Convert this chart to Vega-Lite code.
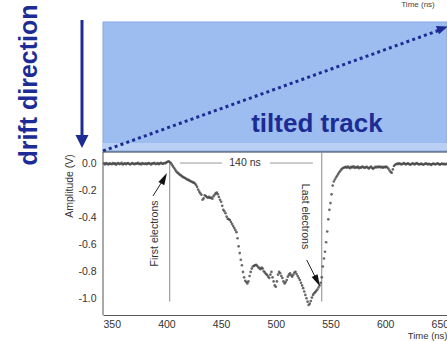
{
  "$schema": "https://vega.github.io/schema/vega-lite/v6.json",
  "width": 344,
  "height": 315,
  "autosize": {"type": "none"},
  "padding": {"left": 103, "top": 0, "right": 0, "bottom": 26},
  "background": "white",
  "config": {"view": {"stroke": null}, "font": "Liberation Sans"},
  "encoding": {
    "x": {"field": "t", "type": "quantitative",
      "scale": {"domain": [342, 656.5], "nice": false, "zero": false},
      "axis": {"values": [350, 400, 450, 500, 550, 600, 650], "title": "Time (ns)", "titleAnchor": "end", "titleFontSize": 9.5, "titleFontWeight": "normal", "titleColor": "#333", "titlePadding": 1, "ticks": false, "domain": true, "domainColor": "#555", "grid": false, "labelPadding": 4, "labelFontSize": 10.5, "labelColor": "#333", "labelFlush": false}},
    "y": {"field": "amp", "type": "quantitative",
      "scale": {"domain": [-1.119, 1.215], "nice": false, "zero": false},
      "axis": {"values": [0, -0.2, -0.4, -0.6, -0.8, -1], "title": null, "domain": false, "ticks": false, "grid": false, "labelPadding": 7, "labelFontSize": 10.5, "labelColor": "#333", "labelExpr": "replace(format(datum.value, '.1f'), '\u2212', '-')"}}
  },
  "layer": [
    {"data": {"values": [{"t": 342, "t2": 656.5, "amp": 0.089, "amp2": 1.052}]},
     "mark": {"type": "rect", "fill": "#9dbdf0", "stroke": "#86a6e6", "strokeWidth": 1},
     "encoding": {"x2": {"field": "t2"}, "y2": {"field": "amp2"}}},
    {"data": {"values": [{"t": 342, "t2": 656.5, "amp": 0.104, "amp2": 0.156}]},
     "mark": {"type": "rect", "fill": "#b9cff3"},
     "encoding": {"x2": {"field": "t2"}, "y2": {"field": "amp2"}}},
    {"data": {"values": [{"t": 342, "amp": 0.096}, {"t": 650, "amp": 0.993}]},
     "mark": {"type": "line", "stroke": "#1c2c94", "strokeWidth": 3, "strokeDash": [3, 3.2]},
     "encoding": {}},
    {"data": {"values": [{"t": 652.5, "amp": 1.005}]},
     "mark": {"type": "point", "shape": "M0,-1L-0.8,1L0.8,1Z", "size": 121, "filled": true, "color": "#1c2c94", "opacity": 1, "angle": 70},
     "encoding": {}},
    {"data": {"values": [{"t": 322.8, "amp": 1.067, "amp2": 0.2}]},
     "mark": {"type": "rule", "stroke": "#1c2c94", "strokeWidth": 3},
     "encoding": {"y2": {"field": "amp2"}}},
    {"data": {"values": [{"t": 322.8, "amp": 0.167}]},
     "mark": {"type": "point", "shape": "M0,-1L-1,1L1,1Z", "size": 169, "filled": true, "color": "#1c2c94", "opacity": 1, "angle": 180},
     "encoding": {}},
    {"data": {"values": [{"t": 281.7, "amp": 0.585, "label": "drift direction"}]},
     "mark": {"type": "text", "angle": 270, "fontSize": 25, "fontWeight": "bold", "color": "#1c2c94", "align": "center", "baseline": "alphabetic"},
     "encoding": {"text": {"field": "label"}}},
    {"data": {"values": [{"t": 537.6, "amp": 0.237, "label": "tilted track"}]},
     "mark": {"type": "text", "fontSize": 26, "fontWeight": "bold", "color": "#1c2c94", "align": "center", "baseline": "alphabetic"},
     "encoding": {"text": {"field": "label"}}},
    {"data": {"values": [{"t": 630, "amp": 1.178, "label": "Time (ns)"}]},
     "mark": {"type": "text", "fontSize": 8, "color": "#444", "align": "center", "baseline": "middle"},
     "encoding": {"text": {"field": "label"}}},
    {"data": {"values": [{"t": 342, "t2": 342, "amp": -1.119, "amp2": 0.089}, {"t": 342, "t2": 656.5, "amp": 0.089, "amp2": 0.089}]},
     "mark": {"type": "rule", "stroke": "#555", "strokeWidth": 1},
     "encoding": {"x2": {"field": "t2"}, "y2": {"field": "amp2"}}},
    {"data": {"values": [{"t": 350}, {"t": 360}, {"t": 370}, {"t": 380}, {"t": 390}, {"t": 400}, {"t": 410}, {"t": 420}, {"t": 430}, {"t": 440}, {"t": 450}, {"t": 460}, {"t": 470}, {"t": 480}, {"t": 490}, {"t": 500}, {"t": 510}, {"t": 520}, {"t": 530}, {"t": 540}, {"t": 550}, {"t": 560}, {"t": 570}, {"t": 580}, {"t": 590}, {"t": 600}, {"t": 610}, {"t": 620}, {"t": 630}, {"t": 640}, {"t": 650}]},
     "mark": {"type": "rule", "stroke": "#555", "strokeWidth": 1},
     "encoding": {"y": {"datum": -1.119}, "y2": {"datum": -1.089}}},
    {"data": {"values": [{"t": 350}, {"t": 400}, {"t": 450}, {"t": 500}, {"t": 550}, {"t": 600}, {"t": 650}]},
     "mark": {"type": "rule", "stroke": "#555", "strokeWidth": 1},
     "encoding": {"y": {"datum": -1.119}, "y2": {"datum": -1.067}}},
    {"data": {"values": [{"amp": 0.05}, {"amp": 0}, {"amp": -0.05}, {"amp": -0.1}, {"amp": -0.15}, {"amp": -0.2}, {"amp": -0.25}, {"amp": -0.3}, {"amp": -0.35}, {"amp": -0.4}, {"amp": -0.45}, {"amp": -0.5}, {"amp": -0.55}, {"amp": -0.6}, {"amp": -0.65}, {"amp": -0.7}, {"amp": -0.75}, {"amp": -0.8}, {"amp": -0.85}, {"amp": -0.9}, {"amp": -0.95}, {"amp": -1}, {"amp": -1.05}, {"amp": -1.1}]},
     "mark": {"type": "rule", "stroke": "#555", "strokeWidth": 1},
     "encoding": {"x": {"datum": 342}, "x2": {"datum": 345.7}}},
    {"data": {"values": [{"amp": 0}, {"amp": -0.2}, {"amp": -0.4}, {"amp": -0.6}, {"amp": -0.8}, {"amp": -1}]},
     "mark": {"type": "rule", "stroke": "#555", "strokeWidth": 1},
     "encoding": {"x": {"datum": 342}, "x2": {"datum": 348.4}}},
    {"data": {"values": [{"t": 403, "amp": 0.0, "amp2": -1.02}, {"t": 542, "amp": 0.089, "amp2": -1.02}]},
     "mark": {"type": "rule", "stroke": "#8a8a8a", "strokeWidth": 1},
     "encoding": {"y2": {"field": "amp2"}}},
    {"data": {"values": [{"t": 412.4, "t2": 450.8, "amp": 0.007}, {"t": 494.6, "t2": 533.9, "amp": 0.007}]},
     "mark": {"type": "rule", "stroke": "#999", "strokeWidth": 1},
     "encoding": {"x2": {"field": "t2"}}},
    {"data": {"values": [{"t": 471.8, "amp": 0.007, "label": "140 ns"}]},
     "mark": {"type": "text", "fontSize": 10.5, "color": "#333", "align": "center", "baseline": "middle"},
     "encoding": {"text": {"field": "label"}}},
    {"data": {"values": [
      {"t":343,"amp":0.004},{"t":344,"amp":-0.003},{"t":345,"amp":0.006},{"t":346,"amp":0.001},{"t":347,"amp":-0.004},{"t":348,"amp":0.005},{"t":349,"amp":0.002},{"t":350,"amp":-0.002},{"t":351,"amp":0.007},{"t":352,"amp":0.0},
      {"t":353,"amp":0.004},{"t":354,"amp":-0.005},{"t":355,"amp":0.003},{"t":356,"amp":0.006},{"t":357,"amp":-0.001},{"t":358,"amp":0.002},{"t":359,"amp":0.008},{"t":360,"amp":-0.003},{"t":361,"amp":0.001},{"t":362,"amp":0.005},
      {"t":363,"amp":-0.002},{"t":364,"amp":0.004},{"t":365,"amp":0.007},{"t":366,"amp":0.0},{"t":367,"amp":-0.004},{"t":368,"amp":0.003},{"t":369,"amp":0.006},{"t":370,"amp":0.001},{"t":371,"amp":-0.002},{"t":372,"amp":0.005},
      {"t":373,"amp":0.002},{"t":374,"amp":0.008},{"t":375,"amp":-0.001},{"t":376,"amp":0.003},{"t":377,"amp":-0.003},{"t":378,"amp":0.006},{"t":379,"amp":0.002},{"t":380,"amp":0.0},{"t":381,"amp":0.005},{"t":382,"amp":-0.002},
      {"t":383,"amp":0.004},{"t":384,"amp":0.007},{"t":385,"amp":0.001},{"t":386,"amp":-0.003},{"t":387,"amp":0.005},{"t":388,"amp":0.003},{"t":389,"amp":0.008},{"t":390,"amp":-0.001},{"t":391,"amp":0.002},{"t":392,"amp":0.006},
      {"t":393,"amp":-0.002},{"t":394,"amp":0.004},{"t":395,"amp":0.009},{"t":396,"amp":0.003},{"t":397,"amp":0.001},{"t":398,"amp":0.007},{"t":399,"amp":0.005},{"t":400,"amp":0.012},{"t":401,"amp":0.016},{"t":402,"amp":0.02},
      {"t":403,"amp":0.014},{"t":404,"amp":0.006},{"t":405,"amp":-0.005},{"t":406,"amp":-0.018},{"t":407,"amp":-0.03},{"t":408,"amp":-0.042},{"t":409,"amp":-0.055},{"t":410,"amp":-0.064},{"t":411,"amp":-0.07},{"t":412,"amp":-0.078},
      {"t":413,"amp":-0.083},{"t":414,"amp":-0.09},{"t":415,"amp":-0.096},{"t":416,"amp":-0.1},{"t":417,"amp":-0.104},{"t":418,"amp":-0.11},{"t":419,"amp":-0.115},{"t":420,"amp":-0.118},{"t":421,"amp":-0.122},{"t":422,"amp":-0.128},
      {"t":423,"amp":-0.13},{"t":424,"amp":-0.136},{"t":425,"amp":-0.138},{"t":426,"amp":-0.145},{"t":427,"amp":-0.155},{"t":428,"amp":-0.17},{"t":429,"amp":-0.19},{"t":430,"amp":-0.205},{"t":431,"amp":-0.218},{"t":432,"amp":-0.228},
      {"t":433,"amp":-0.265},{"t":434,"amp":-0.255},{"t":435,"amp":-0.232},{"t":436,"amp":-0.238},{"t":437,"amp":-0.245},{"t":438,"amp":-0.25},{"t":439,"amp":-0.244},{"t":440,"amp":-0.252},{"t":441,"amp":-0.248},{"t":442,"amp":-0.258},
      {"t":443,"amp":-0.24},{"t":444,"amp":-0.228},{"t":445,"amp":-0.218},{"t":446,"amp":-0.212},{"t":447,"amp":-0.225},{"t":448,"amp":-0.245},{"t":449,"amp":-0.265},{"t":450,"amp":-0.28},{"t":451,"amp":-0.31},{"t":452,"amp":-0.34},
      {"t":453,"amp":-0.35},{"t":454,"amp":-0.365},{"t":455,"amp":-0.39},{"t":456,"amp":-0.405},{"t":457,"amp":-0.41},{"t":458,"amp":-0.415},{"t":459,"amp":-0.43},{"t":460,"amp":-0.445},{"t":461,"amp":-0.46},{"t":462,"amp":-0.475},
      {"t":463,"amp":-0.49},{"t":464,"amp":-0.505},{"t":465,"amp":-0.55},{"t":466,"amp":-0.61},{"t":467,"amp":-0.66},{"t":468,"amp":-0.71},{"t":469,"amp":-0.75},{"t":470,"amp":-0.8},{"t":471,"amp":-0.84},{"t":472,"amp":-0.865},
      {"t":473,"amp":-0.875},{"t":474,"amp":-0.885},{"t":475,"amp":-0.87},{"t":476,"amp":-0.83},{"t":477,"amp":-0.8},{"t":478,"amp":-0.775},{"t":479,"amp":-0.76},{"t":480,"amp":-0.755},{"t":481,"amp":-0.75},{"t":482,"amp":-0.748},
      {"t":483,"amp":-0.755},{"t":484,"amp":-0.765},{"t":485,"amp":-0.772},{"t":486,"amp":-0.78},{"t":487,"amp":-0.768},{"t":488,"amp":-0.775},{"t":489,"amp":-0.795},{"t":490,"amp":-0.805},{"t":491,"amp":-0.815},{"t":492,"amp":-0.822},
      {"t":493,"amp":-0.835},{"t":494,"amp":-0.845},{"t":495,"amp":-0.82},{"t":496,"amp":-0.8},{"t":497,"amp":-0.84},{"t":498,"amp":-0.87},{"t":499,"amp":-0.9},{"t":500,"amp":-0.91},{"t":501,"amp":-0.87},{"t":502,"amp":-0.82},
      {"t":503,"amp":-0.8},{"t":504,"amp":-0.81},{"t":505,"amp":-0.83},{"t":506,"amp":-0.845},{"t":507,"amp":-0.87},{"t":508,"amp":-0.885},{"t":509,"amp":-0.875},{"t":510,"amp":-0.86},{"t":511,"amp":-0.835},{"t":512,"amp":-0.82},
      {"t":513,"amp":-0.81},{"t":514,"amp":-0.825},{"t":515,"amp":-0.835},{"t":516,"amp":-0.82},{"t":517,"amp":-0.805},{"t":518,"amp":-0.8},{"t":519,"amp":-0.815},{"t":520,"amp":-0.83},{"t":521,"amp":-0.845},{"t":522,"amp":-0.86},
      {"t":523,"amp":-0.88},{"t":524,"amp":-0.9},{"t":525,"amp":-0.92},{"t":526,"amp":-0.945},{"t":527,"amp":-0.97},{"t":528,"amp":-0.995},{"t":529,"amp":-1.02},{"t":530,"amp":-1.045},{"t":531,"amp":-1.035},{"t":532,"amp":-1.015},
      {"t":533,"amp":-0.99},{"t":534,"amp":-0.97},{"t":535,"amp":-0.958},{"t":536,"amp":-0.95},{"t":537,"amp":-0.94},{"t":538,"amp":-0.93},{"t":539,"amp":-0.915},{"t":540,"amp":-0.9},{"t":541,"amp":-0.88},{"t":542,"amp":-0.84},
      {"t":543,"amp":-0.76},{"t":544,"amp":-0.7},{"t":545,"amp":-0.65},{"t":546,"amp":-0.58},{"t":547,"amp":-0.5},{"t":548,"amp":-0.41},{"t":549,"amp":-0.34},{"t":550,"amp":-0.29},{"t":551,"amp":-0.225},{"t":552,"amp":-0.16},
      {"t":553,"amp":-0.13},{"t":554,"amp":-0.115},{"t":555,"amp":-0.1},{"t":556,"amp":-0.088},{"t":557,"amp":-0.075},{"t":558,"amp":-0.062},{"t":559,"amp":-0.05},{"t":560,"amp":-0.04},{"t":561,"amp":-0.032},{"t":562,"amp":-0.028},
      {"t":563,"amp":-0.025},{"t":564,"amp":-0.022},{"t":565,"amp":-0.028},{"t":566,"amp":-0.019},{"t":567,"amp":-0.026},{"t":568,"amp":-0.031},{"t":569,"amp":-0.021},{"t":570,"amp":-0.025},{"t":571,"amp":-0.018},{"t":572,"amp":-0.029},
      {"t":573,"amp":-0.023},{"t":574,"amp":-0.027},{"t":575,"amp":-0.02},{"t":576,"amp":-0.032},{"t":577,"amp":-0.024},{"t":578,"amp":-0.028},{"t":579,"amp":-0.019},{"t":580,"amp":-0.023},{"t":581,"amp":-0.03},{"t":582,"amp":-0.025},
      {"t":583,"amp":-0.021},{"t":584,"amp":-0.027},{"t":585,"amp":-0.034},{"t":586,"amp":-0.026},{"t":587,"amp":-0.02},{"t":588,"amp":-0.029},{"t":589,"amp":-0.036},{"t":590,"amp":-0.028},{"t":591,"amp":-0.022},{"t":592,"amp":-0.026},
      {"t":593,"amp":-0.019},{"t":594,"amp":-0.024},{"t":595,"amp":-0.02},{"t":596,"amp":-0.026},{"t":597,"amp":-0.022},{"t":598,"amp":-0.028},{"t":599,"amp":-0.021},{"t":600,"amp":-0.025},{"t":601,"amp":-0.02},{"t":602,"amp":-0.027},
      {"t":603,"amp":-0.035},{"t":604,"amp":-0.048},{"t":605,"amp":-0.06},{"t":606,"amp":-0.065},{"t":607,"amp":-0.04},{"t":608,"amp":-0.015},{"t":609,"amp":-0.006},{"t":610,"amp":-0.002},{"t":611,"amp":0.003},{"t":612,"amp":-0.001},
      {"t":613,"amp":0.004},{"t":614,"amp":0.0},{"t":615,"amp":-0.004},{"t":616,"amp":0.002},{"t":617,"amp":0.006},{"t":618,"amp":0.001},{"t":619,"amp":-0.003},{"t":620,"amp":0.002},{"t":621,"amp":0.005},{"t":622,"amp":-0.002},
      {"t":623,"amp":-0.006},{"t":624,"amp":0.0},{"t":625,"amp":0.004},{"t":626,"amp":0.001},{"t":627,"amp":-0.003},{"t":628,"amp":0.003},{"t":629,"amp":0.006},{"t":630,"amp":0.0},{"t":631,"amp":-0.004},{"t":632,"amp":-0.001},
      {"t":633,"amp":0.003},{"t":634,"amp":-0.002},{"t":635,"amp":-0.006},{"t":636,"amp":0.0},{"t":637,"amp":0.004},{"t":638,"amp":0.001},{"t":639,"amp":-0.003},{"t":640,"amp":0.002},{"t":641,"amp":-0.002},{"t":642,"amp":-0.007},
      {"t":643,"amp":-0.001},{"t":644,"amp":0.003},{"t":645,"amp":0.0},{"t":646,"amp":-0.004},{"t":647,"amp":0.002},{"t":648,"amp":0.005},{"t":649,"amp":-0.001},{"t":650,"amp":-0.005},{"t":651,"amp":0.0},{"t":652,"amp":0.003},
      {"t":653,"amp":-0.002},{"t":654,"amp":0.001},{"t":655,"amp":-0.003},{"t":656,"amp":0.002}
    ]},
     "mark": {"type": "point", "filled": true, "size": 7, "color": "#444", "opacity": 0.8},
     "encoding": {}},
    {"data": {"values": [{"t": 387.7, "amp": -0.237, "t2": 397.9, "amp2": -0.106}, {"t": 528.2, "amp": -0.711, "t2": 537.9, "amp2": -0.867}]},
     "mark": {"type": "rule", "stroke": "#222", "strokeWidth": 1},
     "encoding": {"x2": {"field": "t2"}, "y2": {"field": "amp2"}}},
    {"data": {"values": [{"t": 397.9, "amp": -0.106}]},
     "mark": {"type": "point", "shape": "M0,-1L-0.55,1L0.55,1Z", "size": 144, "filled": true, "color": "#111", "opacity": 1, "angle": 27.5},
     "encoding": {}},
    {"data": {"values": [{"t": 537.9, "amp": -0.867}]},
     "mark": {"type": "point", "shape": "M0,-1L-0.55,1L0.55,1Z", "size": 144, "filled": true, "color": "#111", "opacity": 1, "angle": 153.5},
     "encoding": {}},
    {"data": {"values": [{"t": 389.5, "amp": -0.515, "label": "First electrons"}]},
     "mark": {"type": "text", "angle": 270, "fontSize": 10.5, "color": "#333", "align": "center", "baseline": "middle"},
     "encoding": {"text": {"field": "label"}}},
    {"data": {"values": [{"t": 526.6, "amp": -0.389, "label": "Last electrons"}]},
     "mark": {"type": "text", "angle": 90, "fontSize": 10.5, "color": "#333", "align": "center", "baseline": "middle"},
     "encoding": {"text": {"field": "label"}}},
    {"data": {"values": [{"t": 311.8, "amp": -0.163, "label": "Amplitude (V)"}]},
     "mark": {"type": "text", "angle": 270, "fontSize": 10.5, "color": "#333", "align": "center", "baseline": "middle"},
     "encoding": {"text": {"field": "label"}}}
  ]
}
